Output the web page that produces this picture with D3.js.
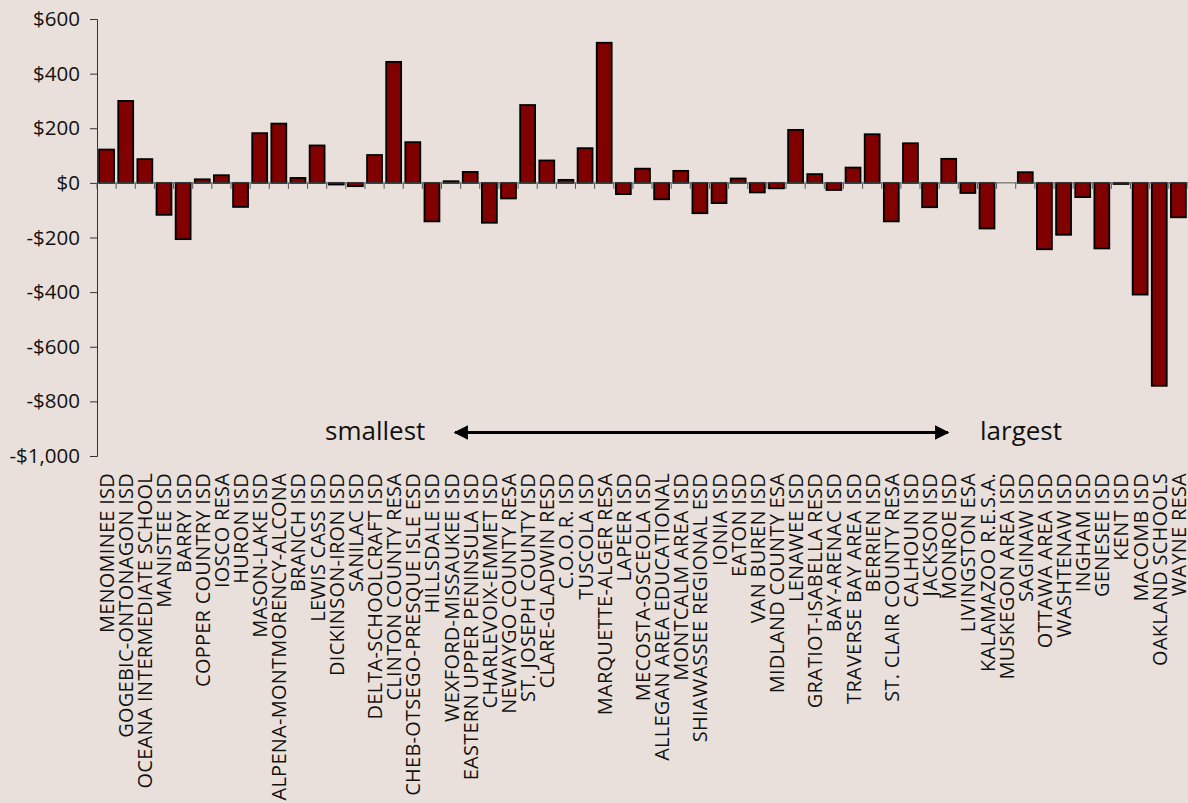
<!DOCTYPE html>
<html><head><meta charset="utf-8">
<script src="https://cdn.jsdelivr.net/npm/d3@7"></script>
<style>
html,body{margin:0;padding:0;background:#EAE0DB;}
svg{display:block;}
text{font-family:"Open Sans","Noto Sans",sans-serif;fill:#111;}
</style></head><body>
<svg id="c" width="1188" height="803"></svg>
<script>
const categories = ["MENOMINEE ISD","GOGEBIC-ONTONAGON ISD","OCEANA INTERMEDIATE SCHOOL","MANISTEE ISD","BARRY ISD","COPPER COUNTRY ISD","IOSCO RESA","HURON ISD","MASON-LAKE ISD","ALPENA-MONTMORENCY-ALCONA","BRANCH ISD","LEWIS CASS ISD","DICKINSON-IRON ISD","SANILAC ISD","DELTA-SCHOOLCRAFT ISD","CLINTON COUNTY RESA","CHEB-OTSEGO-PRESQUE ISLE ESD","HILLSDALE ISD","WEXFORD-MISSAUKEE ISD","EASTERN UPPER PENINSULA ISD","CHARLEVOIX-EMMET ISD","NEWAYGO COUNTY RESA","ST. JOSEPH COUNTY ISD","CLARE-GLADWIN RESD","C.O.O.R. ISD","TUSCOLA ISD","MARQUETTE-ALGER RESA","LAPEER ISD","MECOSTA-OSCEOLA ISD","ALLEGAN AREA EDUCATIONAL","MONTCALM AREA ISD","SHIAWASSEE REGIONAL ESD","IONIA ISD","EATON ISD","VAN BUREN ISD","MIDLAND COUNTY ESA","LENAWEE ISD","GRATIOT-ISABELLA RESD","BAY-ARENAC ISD","TRAVERSE BAY AREA ISD","BERRIEN ISD","ST. CLAIR COUNTY RESA","CALHOUN ISD","JACKSON ISD","MONROE ISD","LIVINGSTON ESA","KALAMAZOO R.E.S.A.","MUSKEGON AREA ISD","SAGINAW ISD","OTTAWA AREA ISD","WASHTENAW ISD","INGHAM ISD","GENESEE ISD","KENT ISD","MACOMB ISD","OAKLAND SCHOOLS","WAYNE RESA"];
const values = [122,300,87,-117,-206,13,28,-88,182,217,18,137,-6,-12,102,443,149,-141,6,40,-146,-57,285,82,11,127,513,-41,52,-60,44,-111,-74,16,-35,-20,194,32,-26,56,178,-141,145,-89,88,-37,-167,0,39,-243,-190,-52,-240,-4,-409,-743,-126];
const yTicks = [600,400,200,0,-200,-400,-600,-800,-1000];
const annotations = ["smallest","largest"];

const svg = d3.select("#c");
const mLeft = 97, mRight = 1188, mTop = 19, mBottom = 456;
const x = d3.scaleBand().domain(categories).range([mLeft, mLeft + 57*19.14]).paddingInner(0.22).paddingOuter(0.11);
const y = d3.scaleLinear().domain([-1000,600]).range([mBottom, mTop]);
const fmt = v => (v<0?"-":"") + "$" + d3.format(",")(Math.abs(v));

// y axis
const ya = svg.append("g").attr("transform",`translate(${mLeft},0)`)
  .call(d3.axisLeft(y).tickValues(yTicks).tickFormat(fmt).tickSize(7).tickPadding(10));
ya.select(".domain").attr("stroke","#333").attr("stroke-width",1);
ya.selectAll(".tick line").attr("stroke","#333");
ya.selectAll("text").attr("font-size",20.5).attr("fill","#111").attr("font-family","'Open Sans', sans-serif");

// bars
svg.append("g").selectAll("rect").data(values).join("rect")
  .attr("x",(d,i)=>x(categories[i]))
  .attr("width",x.bandwidth())
  .attr("y",d=>y(Math.max(0,d)))
  .attr("height",d=>Math.abs(y(d)-y(0)))
  .attr("fill","#800000").attr("stroke","#000").attr("stroke-width",1.8);

// x axis at zero
const step = x.step();
const xa = svg.append("g");
xa.append("line").attr("x1",mLeft).attr("x2",mRight).attr("y1",y(0)).attr("y2",y(0)).attr("stroke","#555").attr("stroke-width",1);
xa.selectAll("line.t").data(d3.range(categories.length+1)).join("line").attr("class","t")
  .attr("x1",i=>mLeft+i*step).attr("x2",i=>mLeft+i*step)
  .attr("y1",y(0)).attr("y2",y(0)+6).attr("stroke","#555").attr("stroke-width",1);

// category labels
svg.append("g").selectAll("text").data(categories).join("text")
  .attr("transform",d=>`translate(${x(d)+x.bandwidth()/2+7.5},473) rotate(-90)`)
  .attr("text-anchor","end").attr("font-size",20).attr("letter-spacing",0.25).text(d=>d);

// annotations
svg.append("defs").html('<marker id="ah" viewBox="0 0 10 10" refX="9" refY="5" markerWidth="5" markerHeight="4.5" orient="auto-start-reverse"><path d="M0,0 L10,5 L0,10 z" fill="#000"/></marker>');
svg.append("line").attr("x1",455).attr("x2",948).attr("y1",432.5).attr("y2",432.5)
  .attr("stroke","#000").attr("stroke-width",3.2)
  .attr("marker-start","url(#ah)").attr("marker-end","url(#ah)");
svg.append("text").attr("x",325).attr("y",440).attr("font-size",26).text(annotations[0]);
svg.append("text").attr("x",980).attr("y",440).attr("font-size",26).text(annotations[1]);
</script></body></html>
